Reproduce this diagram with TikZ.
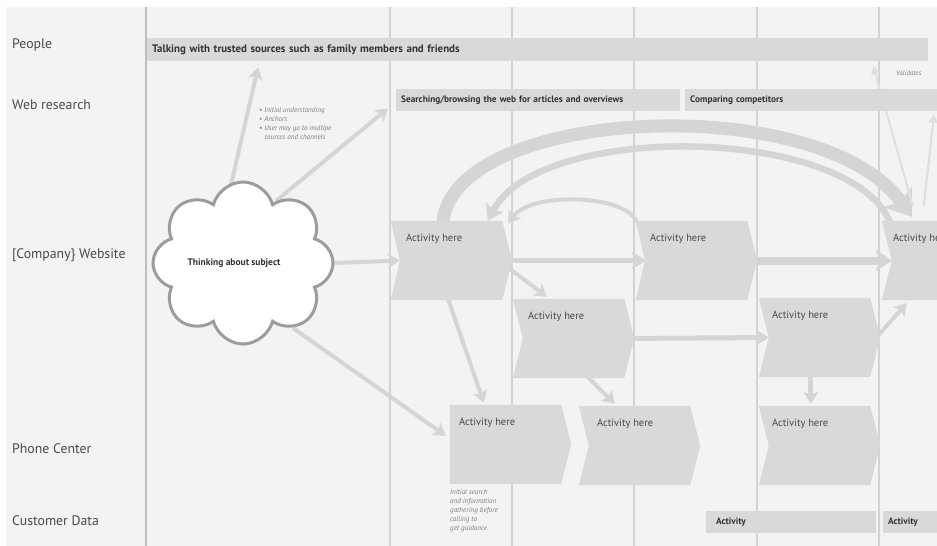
\documentclass[tikz,border=0pt]{standalone}
\usepackage{fontspec}
\setmainfont{PT Sans}
\usetikzlibrary{shapes.symbols,arrows.meta,calc}
\definecolor{bgc}{HTML}{F3F3F3}
\definecolor{barc}{HTML}{D9D9D9}
\definecolor{chevc}{HTML}{D9D9D9}
\definecolor{flowc}{HTML}{D5D5D5}
\definecolor{faintc}{HTML}{DFDFDF}
\definecolor{lanec}{HTML}{D3D3D3}
\definecolor{txtc}{HTML}{4A4A4A}
\definecolor{darktxt}{HTML}{333333}
\definecolor{notec}{HTML}{808080}
\definecolor{cloudline}{HTML}{9C9C9C}
\pgfdeclarelayer{back}
\pgfdeclarelayer{flows}
\pgfsetlayers{back,flows,main}
\newcommand\mkchev[3]{%
  \node[chevbody] (#1) at (#2+55.5,#3+39.5) {};
}
\newcommand\fillchev[3]{%
  \fill[chevc] (#1.north west) -- (#1.north east) -- ([xshift=10pt]#1.east) -- (#1.south east) -- (#1.south west) -- ([xshift=#2pt]#1.west) -- cycle;
  \node[acttext] (#1t) at ([shift={(#3,13)}]#1.north west) {Activity here};
}
\begin{document}
\begin{tikzpicture}[x=1pt,y=-1pt,
  chevbody/.style={rectangle,minimum width=111,minimum height=79,inner sep=0,draw=none},
  acttext/.style={anchor=north west,inner sep=0,text=txtc,font=\fontsize{10.5}{12}\selectfont},
  lanelabel/.style={anchor=west,inner sep=0,text=txtc,font=\fontsize{13.8}{16}\selectfont},
  barbox/.style={anchor=north west,fill=barc,inner xsep=5,inner ysep=0,minimum height=22,align=left,text=darktxt,font=\bfseries\fontsize{9.3}{10}\selectfont},
  notetext/.style={inner sep=0,text=notec,align=left,font=\itshape\fontsize{7.1}{9}\selectfont},
  laneline/.style={draw=lanec,line width=1.3},
  flow/.style={draw=flowc,line width=4,-{Stealth[length=12pt,width=15pt,inset=3pt]}},
  flowmid/.style={draw=flowc,line width=5.5,-{Stealth[length=14pt,width=18pt,inset=3pt]}},
  flowbig/.style={draw=flowc,line width=8,-{Stealth[length=16pt,width=22pt,inset=4pt]}},
  faint/.style={draw=faintc,line width=2,-{Stealth[length=9pt,width=10pt,inset=2pt]}},
  cloudnode/.style={cloud,cloud puffs=8,cloud puff arc=150,aspect=1.15,minimum width=180,minimum height=162,draw=cloudline,line width=3,fill=white,inner sep=0}
]
\useasboundingbox (0,0) rectangle (937,546);
\begin{pgfonlayer}{back}
\fill[white] (0,0) rectangle (937,546);
\fill[bgc] (6,7) rectangle (937,546);
\foreach \x in {390,512,634,757,879} \draw[laneline] (\x,7) -- (\x,546);
\draw[laneline,line width=2,draw=lanec!90!black] (146,7) -- (146,546);
\end{pgfonlayer}

% lane labels
\node[lanelabel] (lpeople) at (12,45) {People};
\node[lanelabel] (lweb) at (12,105) {Web research};
\node[lanelabel] (lsite) at (12,255) {[Company\} Website};
\node[lanelabel] (lphone) at (12,449) {Phone Center};
\node[lanelabel] (lcust) at (12,521) {Customer Data};

% bars
\node[barbox,text width=771,minimum height=23,font=\bfseries\fontsize{10.9}{12}\selectfont] (pbar) at (147,38) {Talking with trusted sources such as family members and friends};
\node[barbox,text width=274] (sbar) at (396,89) {Searching/browsing the web for articles and overviews};
\node[barbox,text width=260] (cbar) at (685,89) {Comparing competitors};
\node[barbox,text width=150,inner xsep=10] (abar1) at (706,511) {Activity};
\node[barbox,text width=60] (abar2) at (883,511) {Activity};

% chevron anchors
\mkchev{c1}{391}{221}
\mkchev{c2}{636}{221}
\mkchev{c3}{882}{221}
\mkchev{c4}{513}{299}
\mkchev{c5}{759}{298}
\mkchev{c6}{450}{405}
\mkchev{c7}{579}{406}
\mkchev{c8}{759}{406}

\node[cloudnode] (cloud) at (243,263) {};

% connectors
\begin{pgfonlayer}{flows}
\draw[draw=flowc,line width=13,-{Stealth[length=24pt,width=34pt,inset=5pt]}]
  ($(c1.north west)+(52,2)$) .. controls +(10,-116) and +(-92,-128) .. ($(c3.north west)+(30,-4)$);
\draw[draw=flowc,line width=6.5,-{Stealth[length=15pt,width=19pt,inset=3pt]}]
  ($(c3.north west)+(8,1)$) .. controls +(-40,-96) and +(52,-100) .. ($(c1.north west)+(97,0)$);
\draw[draw=flowc,line width=4,-{Stealth[length=12pt,width=15pt,inset=3pt]}]
  ($(c2.north west)+(1,1)$) .. controls +(-12,-28) and +(22,-32) .. ($(c1.north east)+(6,3)$);
\draw[flow] (cloud.east) -- ([xshift=9pt]c1.west);
\draw[flowmid] (c1.east) -- ([xshift=10pt]c2.west);
\draw[flowbig] (c2.east) -- ([xshift=10pt]c3.west);
\draw[flow] ($(c1.east)+(6,7)$) -- ($(c4.north west)+(34,-2)$);
\draw[flow] ($(c1.south west)+(55,-8)$) -- ($(c6.north west)+(34,-2)$);
\draw[flow] ($(c4.south west)+(72,-4)$) -- ($(c7.north west)+(36,-2)$);
\draw[flow,line width=5] (c4.east) -- ([xshift=10pt]c5.west);
\draw[flow,line width=5] ($(c5.south west)+(52,-3)$) -- ($(c8.north west)+(52,-2)$);
\draw[flow] ($(c5.east)+(6,0)$) -- ($(c3.south west)+(25,3)$);
\draw[flow] ($(cloud.center)+(50,65)$) -- ($(c6.north west)+(-4,31)$);
\draw[flow] ($(cloud.center)+(-15,-65)$) -- ($(pbar.south west)+(111,6)$);
\draw[flow] ($(cloud.center)+(33,-62)$) -- ($(sbar.south west)+(-8,-3)$);
\draw[faint] ($(c3.north west)+(31,-15)$) -- ($(pbar.south east)+(-55,5)$);
\draw[faint] ($(c3.north west)+(42,-15)$) -- ($(cbar.south west)+(249,3)$);
\end{pgfonlayer}

% chevrons
\fillchev{c1}{9}{15}
\fillchev{c2}{9}{14}
\fillchev{c3}{10}{11}
\fillchev{c4}{10}{15}
\fillchev{c5}{10}{13}
\fillchev{c6}{0}{9}
\fillchev{c7}{10}{18}
\fillchev{c8}{10}{13}

% cloud text
\node[inner sep=0,text=darktxt,font=\bfseries\fontsize{9.5}{11}\selectfont] (cloudtext) at (234,263) {Thinking about subject};

% notes
\node[notetext,anchor=north west] (bullets) at (259,107) {• Initial understanding\\• Anchors\\• User may go to multipe\\\phantom{• }sources and channels};
\node[notetext,anchor=north west] (phonenote) at (450,489) {Initial search\\and information\\gathering before\\calling to\\get guidance};
\node[notetext,anchor=west,font=\itshape\fontsize{6.8}{8}\selectfont] (validates) at (896,73) {Validates};
\end{tikzpicture}
\end{document}
